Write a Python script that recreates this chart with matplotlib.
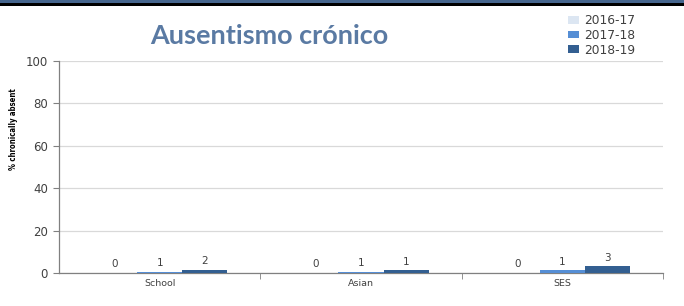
import matplotlib
matplotlib.use("Agg")
import matplotlib.pyplot as plt
import numpy as np

categories = ["School", "Asian", "SES"]
series_names = ["2016-17", "2017-18", "2018-19"]
vals_2016_17 = [0.2, 0.2, 0.2]
vals_2017_18 = [0.6, 0.6, 1.2]
vals_2018_19 = [1.6, 1.2, 3.2]
labels_2016_17 = ["0", "0", "0"]
labels_2017_18 = ["1", "1", "1"]
labels_2018_19 = ["2", "1", "3"]
yticks = [0, 20, 40, 60, 80, 100]

colors = ["#dce6f2", "#558ed5", "#335f91"]
series = [vals_2016_17, vals_2017_18, vals_2018_19]
labels = [labels_2016_17, labels_2017_18, labels_2018_19]

W, H = 684, 306
fig = plt.figure(figsize=(W / 100, H / 100), dpi=100)

# top stripe
fig.add_artist(plt.Rectangle((0, 1 - 3 / H), 1, 3 / H, transform=fig.transFigure,
                             color="#46668e", lw=0))
fig.add_artist(plt.Rectangle((0, 1 - 6 / H), 1, 3 / H, transform=fig.transFigure,
                             color="#000000", lw=0))

ax = fig.add_axes([59 / W, 1 - 273 / H, 604 / W, 212 / H])
x = np.arange(len(categories))
bw = 0.224
handles = []
for i, (vals, c, labs) in enumerate(zip(series, colors, labels)):
    pos = x + (i - 1) * bw
    bars = ax.bar(pos, vals, width=bw, color=c, label=series_names[i], zorder=3)
    handles.append(bars.patches[0])
    for p, v, l in zip(pos, vals, labs):
        ax.annotate(l, (p, v), xytext=(0, 2.5), textcoords="offset points",
                    ha="center", va="bottom", fontsize=7.5, color="#404040",
                    family="DejaVu Sans")

ax.set_xlim(-0.5, len(categories) - 0.5)
ax.set_ylim(0, 100)
ax.set_yticks(yticks)
ax.set_yticklabels([str(t) for t in yticks], fontsize=8.5, color="#404040")
ax.yaxis.grid(True, color="#d9d9d9", lw=0.9, zorder=0)
ax.set_xticks(x)
ax.set_xticklabels(categories, fontsize=6.8, color="#404040")
ax.tick_params(axis="x", length=0, pad=4)
ax.tick_params(axis="y", length=4, color="#808080", pad=4)
ax.set_xticks(np.arange(len(categories)) + 0.5, minor=True)
ax.tick_params(axis="x", which="minor", length=4, color="#808080")
for s in ["top", "right"]:
    ax.spines[s].set_visible(False)
for s in ["left", "bottom"]:
    ax.spines[s].set_color("#808080")
    ax.spines[s].set_linewidth(0.9)

yl = fig.text(14 / W, 1 - 129 / H, "% chronically absent", rotation=90, ha="center",
              va="center", fontsize=7, fontweight="bold", color="#000000",
              family=["DejaVu Sans"], fontstretch="condensed")

t = fig.text(269 / W, 1 - 36 / H, "Ausentismo crónico", ha="center", va="center",
             fontsize=20, fontweight="bold", color="#5a7aa3",
             family=["Lato", "DejaVu Sans"])
fig.canvas.draw()
bb = t.get_window_extent()
t.set_fontsize(20 * 238 / bb.width)
bb = yl.get_window_extent()
yl.set_fontsize(7 * 82 / bb.height)

fig.legend(handles=handles, labels=series_names, loc="upper left",
           bbox_to_anchor=(562 / W, 1 - 8 / H), frameon=False,
           fontsize=8.8, handlelength=0.9, handleheight=0.6,
           handletextpad=0.4, labelspacing=0.14, borderpad=0,
           labelcolor="#404040")

fig.savefig("out.png", dpi=100)
